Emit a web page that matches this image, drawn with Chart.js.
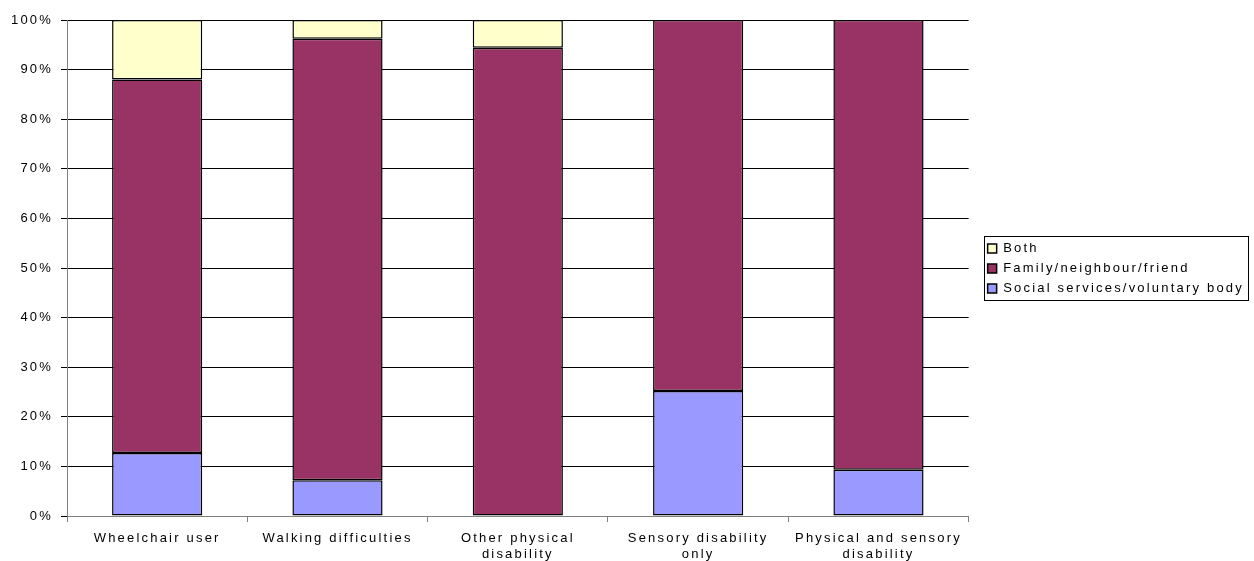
<!DOCTYPE html>
<html>
<head>
<meta charset="utf-8">
<script src="https://cdn.jsdelivr.net/npm/chart.js@4"></script>
<style>
  html, body { margin: 0; padding: 0; background: #fff; }
  #wrap { width: 1254px; height: 561px; position: relative; }
</style>
</head>
<body>
<div id="wrap"><canvas id="helpChart"></canvas></div>
<script>
const categories = [
    'Wheelchair user',
    'Walking difficulties',
    ['Other physical', 'disability'],
    ['Sensory disability', 'only'],
    ['Physical and sensory', 'disability']
];
const socialServices = [12.7, 7.2, 0, 25.2, 9.3];
const family = [75.3, 89.0, 94.4, 74.8, 90.7];
const both = [12.0, 3.8, 5.6, 0, 0];
const yTicks = [0, 10, 20, 30, 40, 50, 60, 70, 80, 90, 100];

const SPACING = '2.2px';
const LEGEND_PAD = 7;
const LEGEND_ROW = 13;

Chart.defaults.font.family = '"Liberation Sans", Arial, sans-serif';
Chart.defaults.font.size = 13;
Chart.defaults.color = '#000';

// wide letter spacing on every piece of text, plus a frame around the legend
const textAndLegend = {
    id: 'textAndLegend',
    beforeUpdate(chart) { chart.ctx.letterSpacing = SPACING; },
    beforeDraw(chart) { chart.ctx.letterSpacing = SPACING; },
    afterLayout(chart) {
        // move the legend a little right of the plot and up to its middle
        const lg = chart.legend;
        const dx = 12, dy = -22;
        lg.left += dx;
        lg.right += dx;
        lg.top += dy;
        lg.bottom += dy;
    },
    afterDraw(chart) {
        const lg = chart.legend;
        const col = lg.columnSizes && lg.columnSizes[0];
        if (!col) return;
        const x0 = lg.left + LEGEND_PAD;
        const y0 = (lg.top + LEGEND_PAD + lg.bottom - col.height) / 2;
        const left = Math.round(x0 - 4);
        const right = Math.round(x0 + col.width + 4);
        const top = Math.round(y0 - 6);
        const bottom = Math.round(y0 + col.height - LEGEND_PAD + 5);
        const ctx = chart.ctx;
        ctx.save();
        ctx.strokeStyle = '#000';
        ctx.lineWidth = 1;
        ctx.strokeRect(left + 0.5, top + 0.5, right - left, bottom - top);
        ctx.restore();
    }
};

new Chart(document.getElementById('helpChart'), {
    type: 'bar',
    data: {
        labels: categories,
        datasets: [
            {
                label: 'Social services/voluntary body',
                data: socialServices,
                backgroundColor: '#9999FF'
            },
            {
                label: 'Family/neighbour/friend',
                data: family,
                backgroundColor: '#993366'
            },
            {
                label: 'Both',
                data: both,
                backgroundColor: '#FFFFCC'
            }
        ]
    },
    options: {
        responsive: true,
        maintainAspectRatio: false,
        animation: false,
        layout: {
            padding: { top: 20, right: 12, bottom: 0, left: 0 }
        },
        datasets: {
            bar: {
                categoryPercentage: 1,
                barPercentage: 0.5,
                borderColor: '#000',
                borderWidth: 1.5,
                borderSkipped: false
            }
        },
        plugins: {
            legend: {
                position: 'right',
                reverse: true,
                labels: {
                    boxWidth: 9,
                    boxHeight: 9,
                    padding: LEGEND_PAD,
                    color: '#000',
                    font: { size: LEGEND_ROW }
                }
            },
            tooltip: { enabled: false }
        },
        scales: {
            x: {
                stacked: true,
                grid: {
                    display: true,
                    drawOnChartArea: false,
                    offset: true,
                    tickLength: 6,
                    color: '#808080'
                },
                border: { color: '#808080' },
                ticks: {
                    maxRotation: 0,
                    autoSkip: false,
                    padding: 8,
                    font: { size: 13, lineHeight: 1.25 }
                },
                afterFit(scale) { scale.height = 45; }
            },
            y: {
                stacked: true,
                min: 0,
                max: 100,
                afterBuildTicks(scale) {
                    scale.ticks = yTicks.map(v => ({ value: v }));
                },
                grid: {
                    color: '#000',
                    tickLength: 6
                },
                border: { color: '#808080' },
                ticks: {
                    padding: 8,
                    callback: v => v + '%'
                },
                afterFit(scale) { scale.width = 67; }
            }
        }
    },
    plugins: [textAndLegend]
});
</script>
</body>
</html>
